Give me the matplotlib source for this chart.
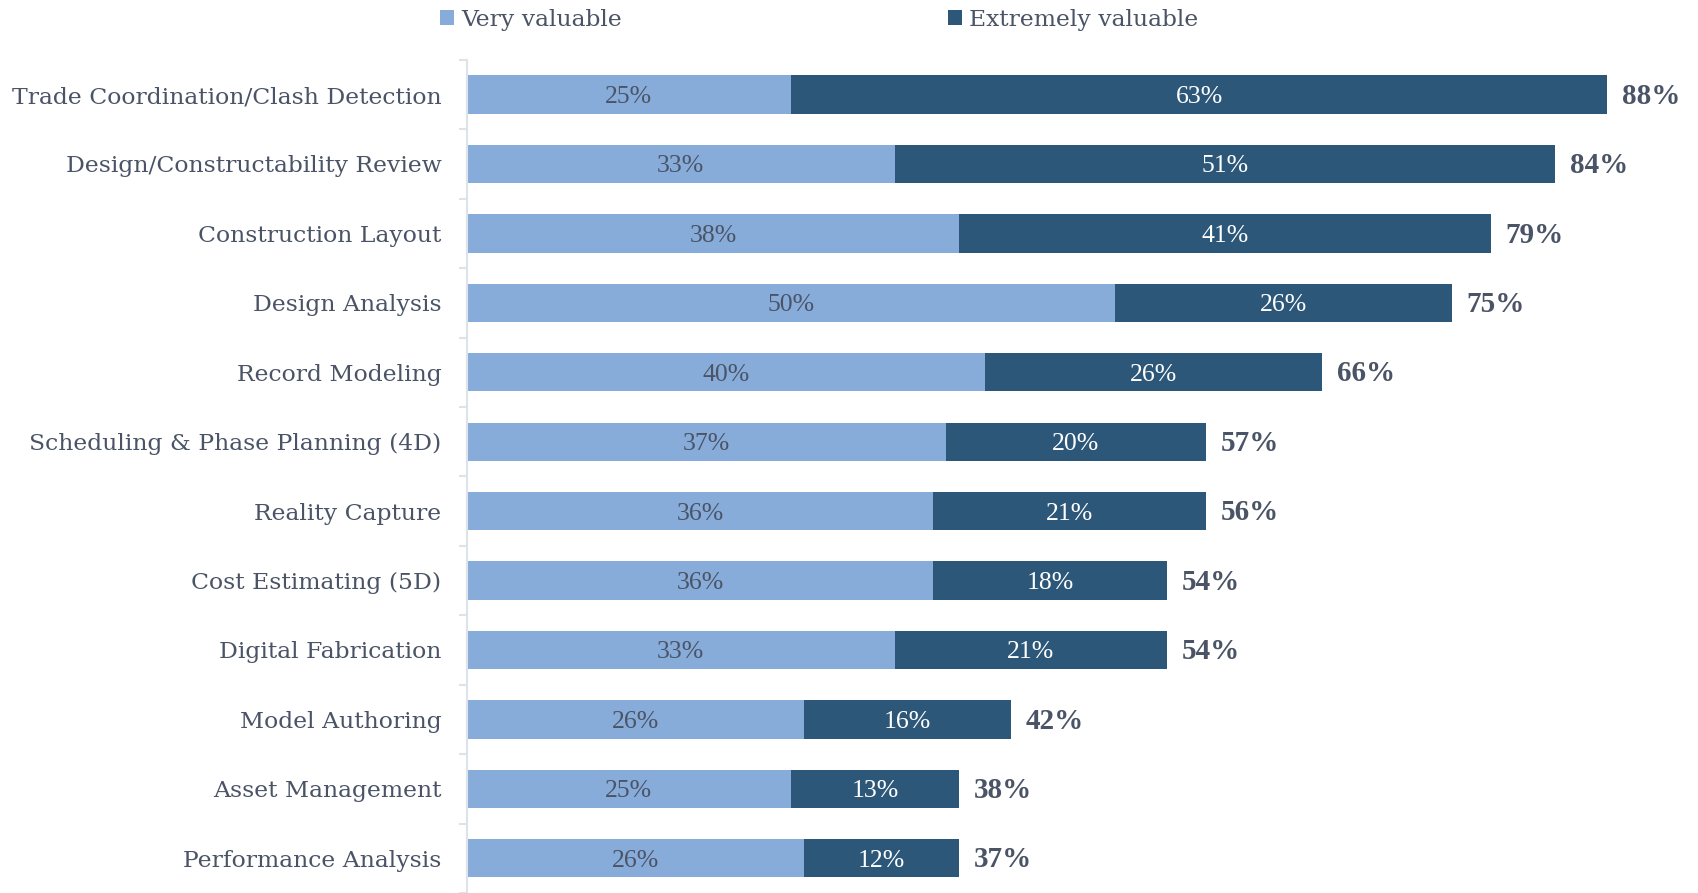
import matplotlib
matplotlib.use('Agg')
import matplotlib.pyplot as plt
import numpy as np

categories = [
	'Trade Coordination/Clash Detection',
	'Design/Constructability Review',
	'Construction Layout',
	'Design Analysis',
	'Record Modeling',
	'Scheduling & Phase Planning (4D)',
	'Reality Capture',
	'Cost Estimating (5D)',
	'Digital Fabrication',
	'Model Authoring',
	'Asset Management',
	'Performance Analysis',
]
very_valuable = [25, 33, 38, 50, 40, 37, 36, 36, 33, 26, 25, 26]
extremely_valuable = [63, 51, 41, 26, 26, 20, 21, 18, 21, 16, 13, 12]
totals = [88, 84, 79, 75, 66, 57, 56, 54, 54, 42, 38, 37]

LIGHT = '#88acda'
DARK = '#2c5779'
TEXT = '#4a5466'

def main():
	fig = plt.figure(figsize=(16.98, 8.93), dpi=100)
	ax = fig.add_axes([0.275, 0.0, 0.725, 0.933])

	y = np.arange(len(categories))
	vv = np.array(very_valuable)
	ev = np.array(extremely_valuable)

	ax.barh(y, vv, height=0.55, color=LIGHT, label='Very valuable')
	ax.barh(y, ev, left=vv, height=0.55, color=DARK, label='Extremely valuable')

	# segment values inside the bars, total to the right
	for i in range(len(categories)):
		ax.text(vv[i] / 2, y[i], '%d%%' % vv[i], ha='center', va='center_baseline',
			color=TEXT, fontsize=18.5, family='Liberation Serif')
		ax.text(vv[i] + ev[i] / 2, y[i], '%d%%' % ev[i], ha='center', va='center_baseline',
			color='white', fontsize=18.5, family='Liberation Serif')
		ax.text(vv[i] + ev[i] + 1.15, y[i] - 0.02, '%d%%' % totals[i], ha='left', va='center_baseline',
			color=TEXT, fontsize=21, family='Liberation Serif', fontweight='bold')

	ax.set_xlim(0, 95)
	ax.set_ylim(11.45, -0.5)
	ax.set_yticks(y)
	ax.set_yticklabels(categories, fontsize=16.9, family='DejaVu Serif', color=TEXT,
		va='center_baseline')
	ax.tick_params(axis='y', length=0, pad=18.5)
	ax.set_yticks(np.arange(-0.5, len(categories), 1.0), minor=True)
	ax.tick_params(axis='y', which='minor', length=6, color='#dde3ea', width=1.5)
	ax.set_xticks([])
	for side in ['top', 'right', 'bottom']:
		ax.spines[side].set_visible(False)
	ax.spines['left'].set_color('#dde3ea')
	ax.spines['left'].set_linewidth(1.5)

	leg = fig.legend(loc='upper left', bbox_to_anchor=(0.2468, 1.014), ncol=2, frameon=False,
		prop={'family': 'DejaVu Serif', 'size': 16.9}, handlelength=0.6, handleheight=0.6,
		handletextpad=0.3, columnspacing=13.9)
	for t in leg.get_texts():
		t.set_color(TEXT)

	fig.savefig('out.png', dpi=100)

if __name__ == '__main__':
	main()
